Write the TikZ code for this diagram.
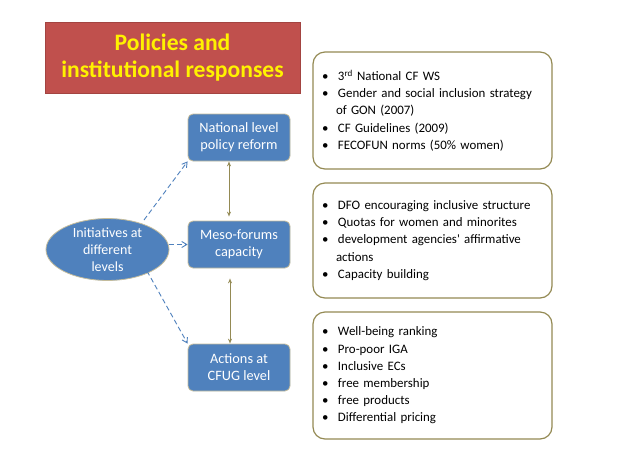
\documentclass[tikz,border=0pt]{standalone}
\usepackage{fontspec}
\setmainfont{Carlito}
\usetikzlibrary{shapes.geometric,arrows.meta}

\definecolor{boxblue}{RGB}{79,129,189}
\definecolor{titlered}{RGB}{192,80,77}
\definecolor{olivetan}{RGB}{148,138,84}
\definecolor{edgetan}{RGB}{196,188,156}

\newcommand{\bitem}[1]{\makebox[16pt][l]{\textbullet}#1}
\newcommand{\bcont}[1]{\hspace*{14pt}#1}

\begin{document}
\begin{tikzpicture}[x=1pt, y=-1pt,
    level/.style={draw=edgetan, line width=0.8pt, fill=boxblue, rounded corners=5pt,
        minimum width=102pt, minimum height=47pt, text=white, align=center,
        font=\fontsize{14.3}{17}\selectfont},
    notes/.style={draw=olivetan, line width=1.2pt, rounded corners=12pt, fill=white,
        text width=221pt, inner xsep=9pt, align=left,
        font=\fontsize{12.9}{17.2}\selectfont},
    link/.style={olivetan, line width=0.9pt, {Stealth[length=5pt,width=4pt,open]}-{Stealth[length=5pt,width=4pt,open]}},
    reach/.style={boxblue, line width=0.9pt, dash pattern=on 5pt off 3pt, -{Straight Barb[length=5pt,width=6pt]}}]
    \fill[white] (0,0) rectangle (638,451);
    \useasboundingbox (0,0) rectangle (638,451);

    % title
    \node[fill=titlered, draw=titlered!85!black, line width=0.6pt, minimum width=255pt, minimum height=71pt,
        text=yellow, align=center, font=\bfseries\fontsize{23.6}{27}\selectfont] (title) at (172.5,57.5)
        {Policies and\\institutional responses};

    % levels
    \node[level] (natl) at (239,137.5) {National level\\policy reform};
    \node[level] (meso) at (239,244.5) {Meso-forums\\capacity};
    \node[level] (acts) at (239,367.5) {Actions at\\CFUG level};
    \node[ellipse, draw=edgetan, line width=0.8pt, fill=boxblue, minimum width=123pt, minimum height=51pt,
        inner sep=0pt, text=white, align=center, font=\fontsize{14}{17}\selectfont] (init) at (107.5,249.5)
        {Initiatives at\\different\\levels};

    % notes
    \node[notes, minimum height=117pt] (natlnotes) at (432.5,110.5) {%
        \bitem{3\textsuperscript{rd} National CF WS}\\
        \bitem{Gender and social inclusion strategy}\\
        \bcont{of GON (2007)}\\
        \bitem{CF Guidelines (2009)}\\
        \bitem{FECOFUN norms (50\% women)}};
    \node[notes, minimum height=115pt] (mesonotes) at (432.5,240.5) {%
        \bitem{DFO encouraging inclusive structure}\\
        \bitem{Quotas for women and minorites}\\
        \bitem{development agencies\textquotesingle\ affirmative}\\
        \bcont{actions}\\
        \bitem{Capacity building}};
    \node[notes, minimum height=127pt] (actsnotes) at (432.5,375.5) {%
        \bitem{Well-being ranking}\\
        \bitem{Pro-poor IGA}\\
        \bitem{Inclusive ECs}\\
        \bitem{free membership}\\
        \bitem{free products}\\
        \bitem{Differential pricing}};

    % connectors
    \draw[link] ([xshift=-10pt]natl.south) -- ([xshift=-10pt,yshift=4pt]meso.north);
    \draw[link] ([xshift=-9pt,yshift=-10pt]meso.south) -- ([xshift=-9pt]acts.north);
    \draw[reach] ([xshift=36.5pt,yshift=29.5pt]init.center) -- (natl.south west);
    \draw[reach] (init.east |- meso.west) -- (meso.west);
    \draw[reach] ([xshift=39.5pt,yshift=-21.5pt]init.center) -- (acts.north west);
\end{tikzpicture}
\end{document}
